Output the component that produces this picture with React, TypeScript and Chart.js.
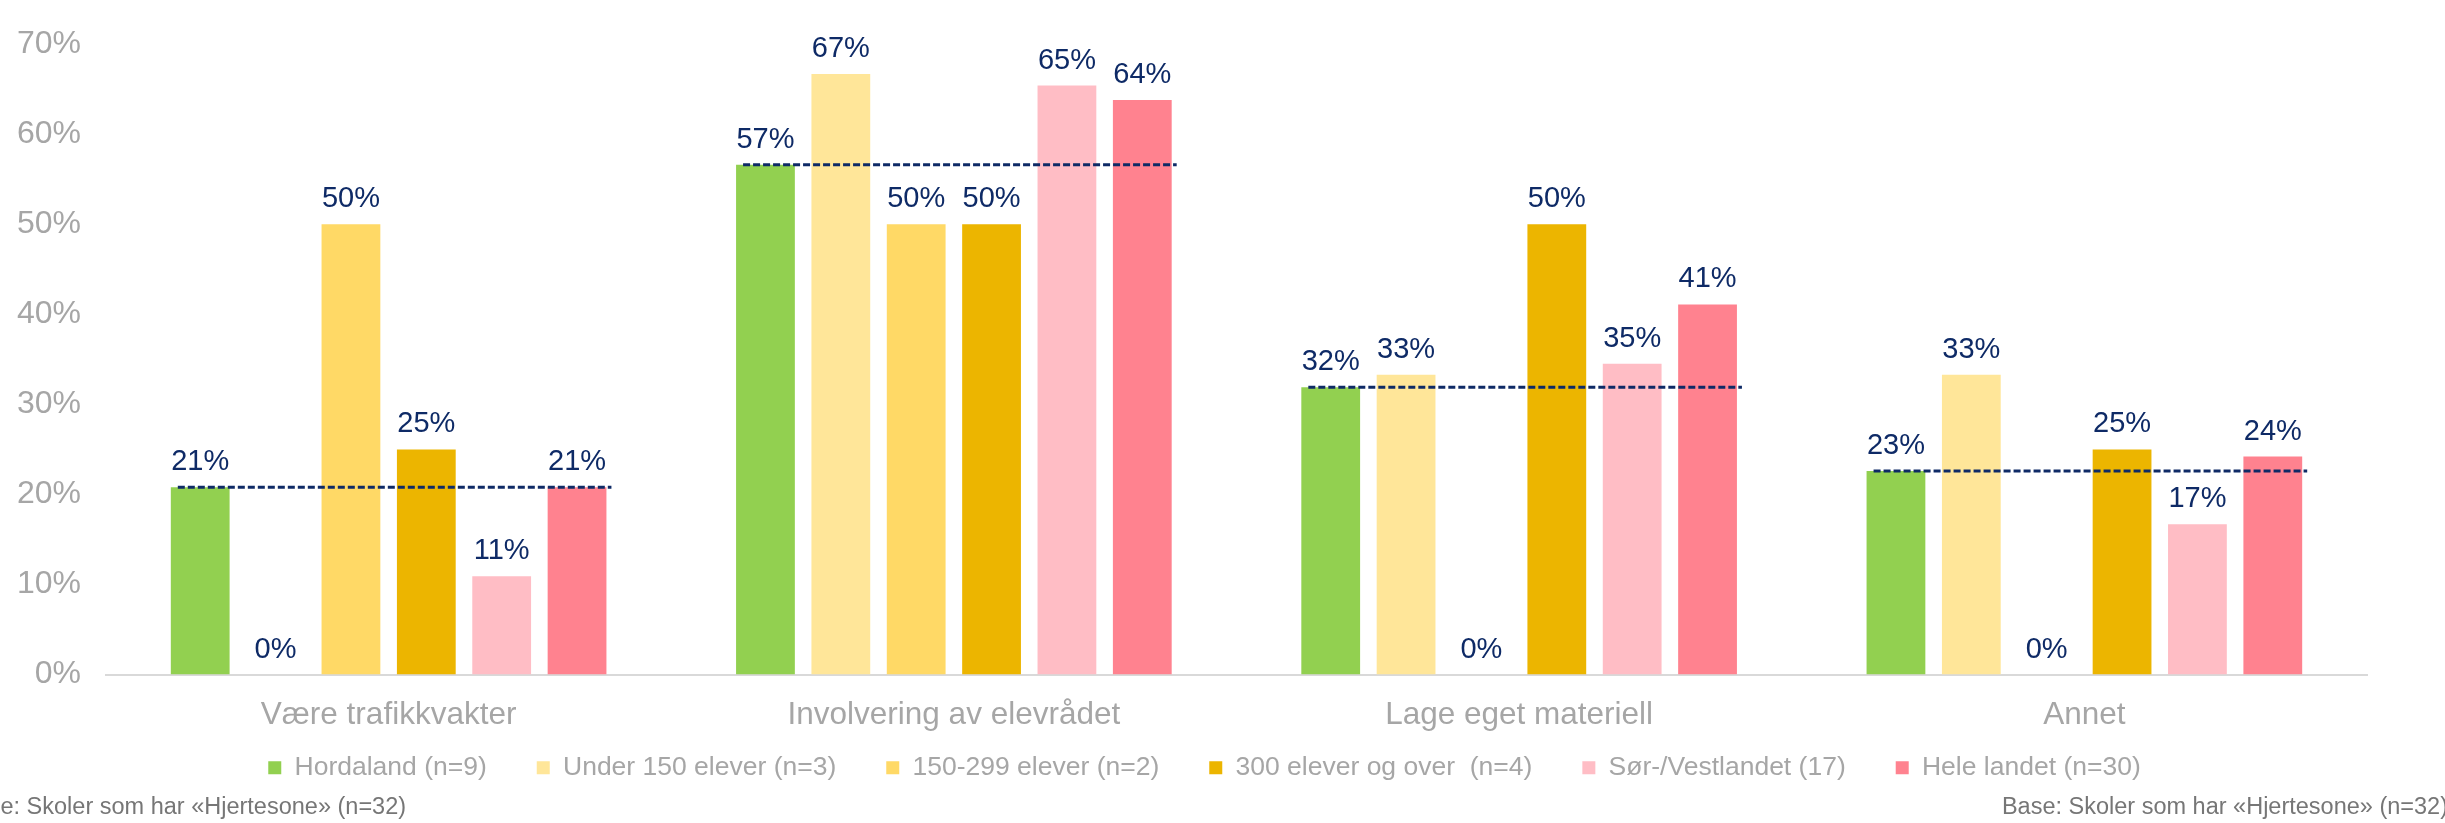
import React, { useEffect, useRef } from "react";
import { Chart, registerables } from "chart.js";

Chart.register(...registerables);

const categories = [
  "Være trafikkvakter",
  "Involvering av elevrådet",
  "Lage eget materiell",
  "Annet",
];
const seriesNames = [
  "Hordaland (n=9)",
  "Under 150 elever (n=3)",
  "150-299 elever (n=2)",
  "300 elever og over  (n=4)",
  "Sør-/Vestlandet (17)",
  "Hele landet (n=30)",
];
const hordaland = [20.8, 56.6, 31.9, 22.6];
const under150 = [0, 66.7, 33.3, 33.3];
const from150to299 = [50, 50, 0, 0];
const over300 = [25, 50, 50, 25];
const sorVestlandet = [10.9, 65.4, 34.5, 16.7];
const heleLandet = [20.8, 63.8, 41.1, 24.2];
const yTicks = [0, 10, 20, 30, 40, 50, 60, 70];
const footnote = "Base: Skoler som har «Hjertesone» (n=32)";

const seriesColors = ["#92D050", "#FFE699", "#FFD966", "#ECB500", "#FFBDC5", "#FF828F"];
const NAVY = "#0E2A66";
const GRAY = "#A6A6A6";
const FONT = "'Liberation Sans', Arial, sans-serif";

const refLinePlugin = {
  id: "refLine",
  afterDatasetsDraw(chart: any) {
    const ctx = chart.ctx;
    const yScale = chart.scales.y;
    const first = chart.getDatasetMeta(0);
    const last = chart.getDatasetMeta(chart.data.datasets.length - 1);
    ctx.save();
    ctx.strokeStyle = NAVY;
    ctx.lineWidth = 3;
    ctx.setLineDash([7, 3]);
    hordaland.forEach((v, i) => {
      const b0: any = first.data[i];
      const b1: any = last.data[i];
      const py = yScale.getPixelForValue(v);
      ctx.beginPath();
      ctx.moveTo(b0.x - b0.width / 2 + 7, py);
      ctx.lineTo(b1.x + b1.width / 2 + 5, py);
      ctx.stroke();
    });
    ctx.restore();
  },
};

const valueLabelPlugin = {
  id: "valueLabels",
  afterDraw(chart: any) {
    const ctx = chart.ctx;
    ctx.save();
    ctx.fillStyle = NAVY;
    ctx.font = `29px ${FONT}`;
    ctx.textAlign = "center";
    ctx.textBaseline = "alphabetic";
    chart.data.datasets.forEach((ds: any, di: number) => {
      const meta = chart.getDatasetMeta(di);
      meta.data.forEach((bar: any, i: number) => {
        const v = ds.data[i];
        ctx.fillText(Math.round(v) + "%", bar.x, bar.y - 17);
      });
    });
    ctx.restore();
  },
};

// Moves the legend box so its row sits where the reference's legend row is.
const legendPlacePlugin = {
  id: "legendPlace",
  afterLayout(chart: any) {
    const lg = chart.legend;
    if (!lg) return;
    lg.top -= 32;
    lg.bottom -= 32;
    lg.left += 21;
    lg.right += 21;
  },
};

export default function App() {
  const canvasRef = useRef<HTMLCanvasElement | null>(null);

  useEffect(() => {
    if (!canvasRef.current) return;
    Chart.defaults.font.family = FONT;
    const seriesValues = [hordaland, under150, from150to299, over300, sorVestlandet, heleLandet];
    const chart = new Chart(canvasRef.current, {
      type: "bar",
      data: {
        labels: categories,
        datasets: seriesValues.map((vals, i) => ({
          label: seriesNames[i],
          data: vals,
          backgroundColor: seriesColors[i],
          borderWidth: 0,
          categoryPercentage: 0.8,
          barPercentage: 0.78,
        })),
      },
      options: {
        animation: false,
        responsive: true,
        maintainAspectRatio: false,
        devicePixelRatio: 1,
        layout: { padding: { left: 0, right: 78, top: 27, bottom: 0 } },
        plugins: {
          legend: {
            position: "bottom",
            maxHeight: 90.5,
            labels: {
              color: GRAY,
              font: { size: 26.5, family: FONT },
              boxWidth: 13,
              boxHeight: 13,
              padding: 50,
            },
          },
          tooltip: { enabled: false },
        },
        scales: {
          x: {
            grid: { display: false, drawTicks: false },
            border: { display: true, color: "#D9D9D9", width: 2 },
            ticks: { color: GRAY, font: { size: 31.5, family: FONT }, padding: 22 },
            afterFit: (s: any) => {
              s.height = 62;
            },
          },
          y: {
            min: 0,
            max: 70,
            afterBuildTicks: (s: any) => {
              s.ticks = yTicks.map((v) => ({ value: v }));
            },
            ticks: {
              color: GRAY,
              font: { size: 32, family: FONT },
              padding: 25,
              callback: (v: any) => v + "%",
            },
            grid: { display: false, drawTicks: false },
            border: { display: false },
            afterFit: (s: any) => {
              s.width = 106;
            },
          },
        },
      },
      plugins: [refLinePlugin, valueLabelPlugin, legendPlacePlugin],
    });
    return () => chart.destroy();
  }, []);

  const noteStyle: React.CSSProperties = {
    position: "absolute",
    top: 794,
    fontFamily: FONT,
    fontSize: 23.5,
    lineHeight: "24px",
    color: "#767676",
    whiteSpace: "nowrap",
  };

  return (
    <div
      style={{
        position: "fixed",
        left: 0,
        top: 0,
        width: 2445,
        height: 823,
        overflow: "hidden",
        background: "#ffffff",
      }}
    >
      <div style={{ position: "absolute", left: 0, top: 0, width: 2445, height: 823 }}>
        <canvas ref={canvasRef} />
      </div>
      <div style={{ ...noteStyle, left: -40 }}>{footnote}</div>
      <div style={{ ...noteStyle, right: -3 }}>{footnote}</div>
    </div>
  );
}
